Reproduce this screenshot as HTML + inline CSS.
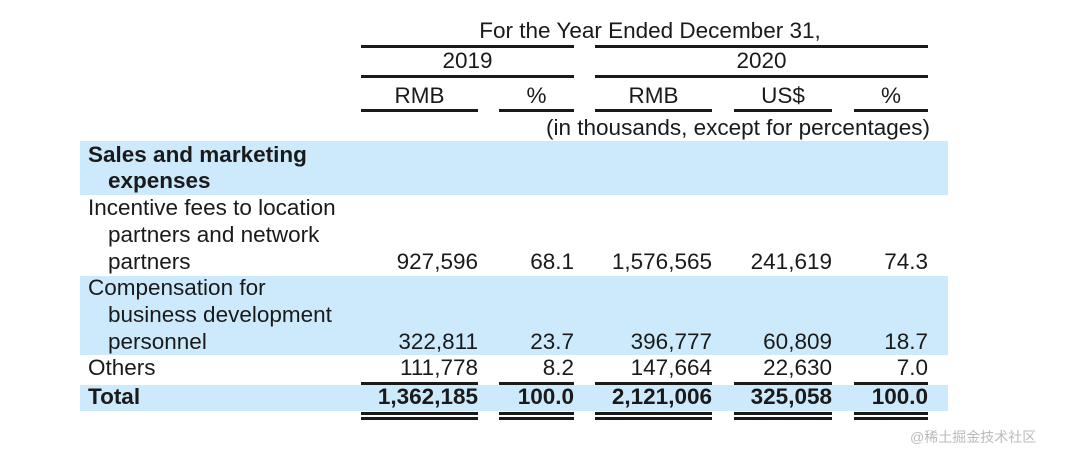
<!DOCTYPE html>
<html><head><meta charset="utf-8"><style>
body{margin:0;background:#fff;width:1080px;height:451px;position:relative;overflow:hidden;font-family:"Liberation Sans",Arial,sans-serif;color:#1a1a1a;font-size:22.5px}
.a{position:absolute;white-space:nowrap;line-height:26px}
.r{text-align:right}
.c{text-align:center}
.ln{position:absolute;height:3px;background:#1a1a1a}
.bg{position:absolute;left:80px;width:868px;background:#cdeafc}
.b{font-weight:bold}
</style></head><body>
<div class="bg" style="top:141px;height:54px"></div>
<div class="bg" style="top:276px;height:79px"></div>
<div class="bg" style="top:385px;height:26px"></div>

<div class="a c" style="left:360px;width:580px;top:18px">For the Year Ended December 31,</div>
<div class="ln" style="left:361px;width:213px;top:45px"></div>
<div class="ln" style="left:595px;width:333px;top:45px"></div>
<div class="a c" style="left:361px;width:213px;top:48px">2019</div>
<div class="a c" style="left:595px;width:333px;top:48px">2020</div>
<div class="ln" style="left:361px;width:213px;top:75px"></div>
<div class="ln" style="left:595px;width:333px;top:75px"></div>
<div class="a c" style="left:361px;width:117px;top:83px">RMB</div>
<div class="a c" style="left:499px;width:75px;top:83px">%</div>
<div class="a c" style="left:595px;width:117px;top:83px">RMB</div>
<div class="a c" style="left:734px;width:98px;top:83px">US$</div>
<div class="a c" style="left:854px;width:74px;top:83px">%</div>
<div class="ln" style="left:361px;width:117px;top:109px"></div>
<div class="ln" style="left:499px;width:75px;top:109px"></div>
<div class="ln" style="left:595px;width:117px;top:109px"></div>
<div class="ln" style="left:734px;width:98px;top:109px"></div>
<div class="ln" style="left:854px;width:74px;top:109px"></div>
<div class="a r" style="left:400px;width:530px;top:115px">(in thousands, except for percentages)</div>

<div class="a b" style="left:88px;top:142px">Sales and marketing</div>
<div class="a b" style="left:108px;top:168px">expenses</div>

<div class="a" style="left:88px;top:195px">Incentive fees to location</div>
<div class="a" style="left:108px;top:222px">partners and network</div>
<div class="a" style="left:108px;top:249px">partners</div>

<div class="a" style="left:88px;top:275px">Compensation for</div>
<div class="a" style="left:108px;top:302px">business development</div>
<div class="a" style="left:108px;top:329px">personnel</div>

<div class="a" style="left:88px;top:355px">Others</div>
<div class="a b" style="left:88px;top:384px">Total</div>

<script>
const rights=[478,574,712,832,928];
const rows=[
 {name:'incentive',top:249,bold:false,v:['927,596','68.1','1,576,565','241,619','74.3']},
 {name:'compensation',top:329,bold:false,v:['322,811','23.7','396,777','60,809','18.7']},
 {name:'others',top:355,bold:false,v:['111,778','8.2','147,664','22,630','7.0']},
 {name:'total',top:384,bold:true,v:['1,362,185','100.0','2,121,006','325,058','100.0']}
];
const lefts=[361,499,595,734,854];
rows.forEach(r=>{r.v.forEach((t,i)=>{
 const d=document.createElement('div');
 d.className='a r'+(r.bold?' b':'');
 d.style.left=(rights[i]-160)+'px';d.style.width='160px';d.style.top=r.top+'px';
 d.textContent=t;
 
 
 document.body.appendChild(d);
});});
[382,412,417].forEach(y=>{lefts.forEach((l,i)=>{
 const d=document.createElement('div');d.className='ln';
 d.style.left=l+'px';d.style.width=(rights[i]-l)+'px';d.style.top=y+'px';d.style.height='3px';
 
 
 document.body.appendChild(d);
});});
</script>
<div class="a" style="left:910px;top:424px;font-size:14px;color:#bbb;font-family:'Liberation Sans','Noto Sans CJK SC',sans-serif">@稀土掘金技术社区</div>
</body></html>
